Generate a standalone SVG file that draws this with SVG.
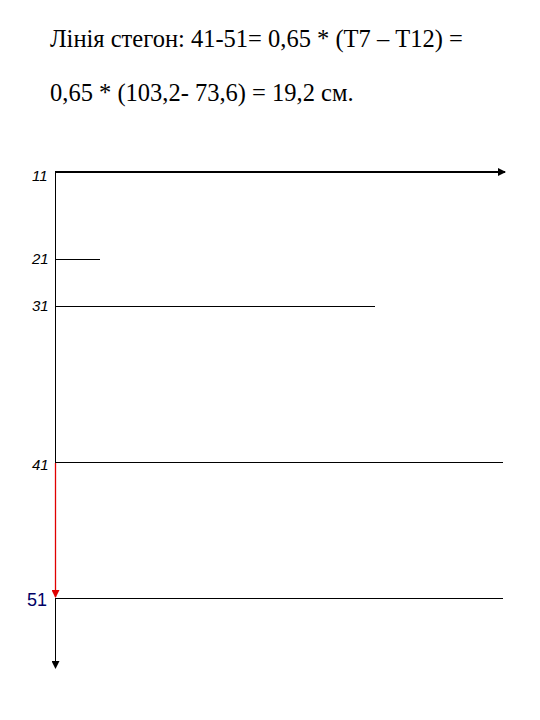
<svg xmlns="http://www.w3.org/2000/svg" width="540" height="720" viewBox="0 0 540 720">
<style>
.t{font-family:"Liberation Serif",serif;font-size:24.5px;fill:#000}
.lbl{font-family:"Liberation Sans",sans-serif;font-style:italic;font-size:15px;fill:#000}
.ln{stroke:#000;stroke-width:1;fill:none}
</style>
<defs>
<marker id="ab" markerWidth="8" markerHeight="8" refX="7" refY="4" orient="auto" markerUnits="userSpaceOnUse"><path d="M0,0 L8,4 L0,8 Z" fill="#000"/></marker>
<marker id="ar" markerWidth="8" markerHeight="8" refX="7" refY="4" orient="auto" markerUnits="userSpaceOnUse"><path d="M0,0 L8,4 L0,8 Z" fill="#e00000"/></marker>
</defs>
<rect width="540" height="720" fill="#fff"/>
<g id="title">
<text class="t" x="50" y="47">Лінія стегон: 41-51= 0,65 * (Т7 – Т12) =</text>
<text class="t" x="50" y="101">0,65 * (103,2- 73,6) = 19,2 см.</text>
</g>
<g id="connectors">
<line class="ln" x1="55.5" y1="172" x2="55.5" y2="462"/>
<line class="ln" x1="55.5" y1="598" x2="55.5" y2="668" marker-end="url(#ab)"/>
<line x1="55" y1="172" x2="505" y2="172" stroke="#000" stroke-width="2" marker-end="url(#ab)"/>
<line class="ln" x1="55" y1="259.5" x2="100" y2="259.5"/>
<line class="ln" x1="55" y1="306.5" x2="375" y2="306.5"/>
<line class="ln" x1="55" y1="462.5" x2="503" y2="462.5"/>
<line class="ln" x1="55" y1="598.5" x2="503" y2="598.5"/>
<line x1="55.5" y1="463" x2="55.5" y2="597" stroke="#e00000" stroke-width="1.3" marker-end="url(#ar)"/>
</g>
<g id="n11"><text class="lbl" x="32" y="181">11</text></g>
<g id="n21"><text class="lbl" x="32" y="264">21</text></g>
<g id="n31"><text class="lbl" x="32" y="311">31</text></g>
<g id="n41"><text class="lbl" x="32" y="470">41</text></g>
<g id="n51"><text x="27" y="606" font-family="Liberation Sans,sans-serif" font-size="18" fill="#000066">51</text></g>
</svg>
